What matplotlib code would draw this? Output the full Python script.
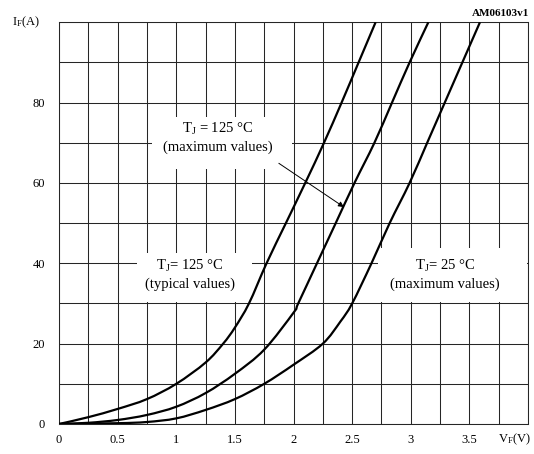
import matplotlib
matplotlib.use("Agg")
import matplotlib.pyplot as plt
from matplotlib.patches import Rectangle, PathPatch
from matplotlib.path import Path

plt.rcParams['font.family'] = ['Liberation Serif', 'DejaVu Serif']
plt.rcParams['mathtext.fontset'] = 'custom'
plt.rcParams['mathtext.rm'] = 'Liberation Serif'
plt.rcParams['mathtext.it'] = 'Liberation Serif:italic'
plt.rcParams['mathtext.bf'] = 'Liberation Serif:bold'

# ---- data ----
vf_typ125 = [0, 0.25, 0.5, 0.75, 1.0, 1.25, 1.4, 1.5, 1.62, 1.77, 1.935, 2.1, 2.26, 2.41, 2.555, 2.70]
if_typ125 = [0, 1.7, 3.75, 6.2, 10, 15.3, 20, 24, 30, 40, 50, 60, 70, 80, 90, 100]

vf_max125 = [0, 0.25, 0.5, 0.75, 1.0, 1.25, 1.5, 1.75, 2.0, 2.04, 2.2, 2.36, 2.52, 2.69, 2.84, 2.99, 3.15]
if_max125 = [0, 0.3, 1.0, 2.25, 4.3, 7.7, 12.5, 18.5, 27.7, 30, 40, 50, 60, 70, 80, 90, 100]

vf_max25 = [0, 0.5, 0.75, 1.0, 1.25, 1.5, 1.75, 2.0, 2.25, 2.4, 2.5, 2.665, 2.82, 2.99, 3.14, 3.29, 3.44, 3.59]
if_max25 = [0, 0.2, 0.5, 1.4, 3.5, 6.2, 10, 14.75, 20, 25.5, 30, 40, 50, 60, 70, 80, 90, 100]

x_ticks = [0, 0.5, 1, 1.5, 2, 2.5, 3, 3.5]
x_tick_labels = ['0', '0.5', '1', '1.5', '2', '2.5', '3', '3.5']
y_ticks = [0, 20, 40, 60, 80]
y_tick_labels = ['0', '20', '40', '60', '80']

label_max125 = "T$_{\\rm J}$ = 125 \u00b0C\n(maximum values)"
label_typ125 = "T$_{\\rm J}$= 125 \u00b0C\n(typical values)"
label_max25 = "T$_{\\rm J}$= 25 \u00b0C\n(maximum values)"


def smooth_path(xs, ys, t=0.5):
    """Cubic Bezier path through the given points (Catmull-Rom tangents)."""
    pts = list(zip(xs, ys))
    n = len(pts)
    verts = [pts[0]]
    codes = [Path.MOVETO]
    for k in range(n - 1):
        p0 = pts[k - 1] if k > 0 else pts[k]
        p1 = pts[k]
        p2 = pts[k + 1]
        p3 = pts[k + 2] if k + 2 < n else pts[k + 1]
        c1 = (p1[0] + (p2[0] - p0[0]) * t / 3, p1[1] + (p2[1] - p0[1]) * t / 3)
        c2 = (p2[0] - (p3[0] - p1[0]) * t / 3, p2[1] - (p3[1] - p1[1]) * t / 3)
        verts += [c1, c2, p2]
        codes += [Path.CURVE4] * 3
    return Path(verts, codes)


# ---- figure ----
fig = plt.figure(figsize=(5.34, 4.54), dpi=100)
ax = fig.add_axes([59/534, 1 - 424/454, (528 - 59)/534, (424 - 22.3)/454])
ax.set_xlim(0, 4.0)
ax.set_ylim(0, 100)

grid_c = '#262626'
for i in range(17):
    ax.axvline(i * 0.25, color=grid_c, lw=0.75, zorder=1)
for j in range(11):
    ax.axhline(j * 10, color=grid_c, lw=0.75, zorder=1)
for s in ax.spines.values():
    s.set_color(grid_c)
    s.set_linewidth(0.75)

ax.set_xticks(x_ticks)
ax.set_xticklabels(x_tick_labels, fontsize=9)
ax.set_yticks(y_ticks)
ax.set_yticklabels(y_tick_labels, fontsize=9)
ax.tick_params(axis='both', length=0)
ax.tick_params(axis='x', pad=7)
ax.tick_params(axis='y', pad=10)

# white label backgrounds
for (x0, x1, y0, y1) in [(0.793, 1.986, 63.4, 76.4), (0.665, 1.645, 30.3, 42.5), (2.72, 3.99, 30.3, 43.8)]:
    ax.add_patch(Rectangle((x0, y0), x1 - x0, y1 - y0, facecolor='white', edgecolor='none', zorder=2))

for v, i in [(vf_typ125, if_typ125), (vf_max125, if_max125), (vf_max25, if_max25)]:
    ax.add_patch(PathPatch(smooth_path(v, i), facecolor='none', edgecolor='black',
                           lw=1.6, zorder=4, joinstyle='round', clip_on=True))

ax.text(1.355, 71.4, label_max125, ha='center', va='center', fontsize=10.5, linespacing=1.3, zorder=5)
ax.text(1.117, 37.3, label_typ125, ha='center', va='center', fontsize=10.5, linespacing=1.3, zorder=5)
ax.text(3.29, 37.3, label_max25, ha='center', va='center', fontsize=10.5, linespacing=1.3, zorder=5)

ax.annotate('', xy=(2.43, 54.0), xytext=(1.875, 64.9),
            arrowprops=dict(arrowstyle='-|>', color='black', lw=0.7, mutation_scale=8,
                            shrinkA=0, shrinkB=0), zorder=6)

fig.text(12/534, 1 - 22/454, "I$_{\\rm F}$(A)", ha='left', va='center', fontsize=9)
fig.text(531/534, 1 - 439/454, "V$_{\\rm F}$(V)", ha='right', va='center', fontsize=9)
fig.text(529/534, 1 - 14/454, "AM06103v1", ha='right', va='center', fontsize=8, fontweight='bold')

fig.savefig('out.png', dpi=100)
